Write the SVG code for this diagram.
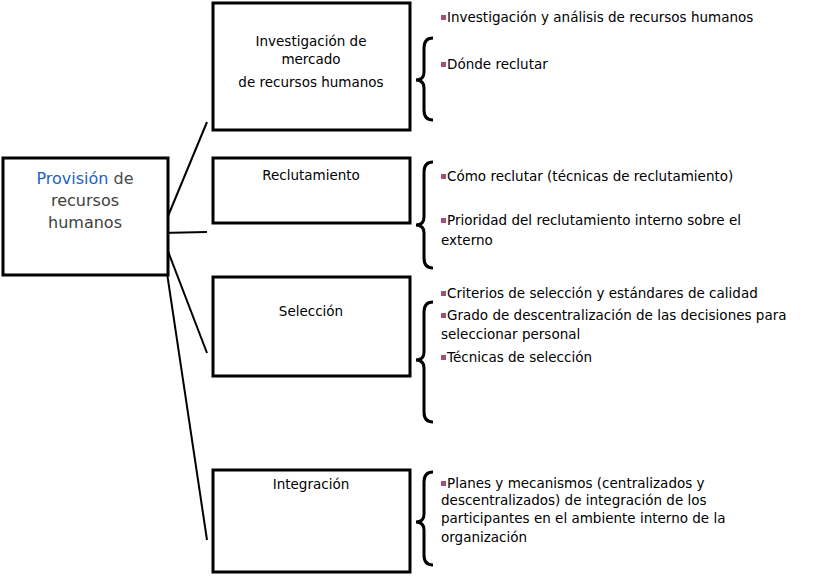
<svg xmlns="http://www.w3.org/2000/svg" width="821" height="577" viewBox="0 0 821 577">
<style>
.box{fill:#fff;stroke:#000;stroke-width:3}
.ln{stroke:#000;stroke-width:2;fill:none}
.br{stroke:#000;stroke-width:3;fill:none}
text{font-family:"DejaVu Sans",Verdana,sans-serif;font-size:13.5px;fill:#000}
.c{text-anchor:middle}
.m{font-size:16px;fill:#000;text-anchor:middle}
.b{fill:#a0507a}
</style>
<rect width="821" height="577" fill="#fff"/>
<g id="connectors">
<line class="ln" x1="161" y1="233" x2="207" y2="122" stroke-width="3"/>
<line class="ln" x1="161" y1="233" x2="207" y2="232"/>
<line class="ln" x1="161" y1="233" x2="207" y2="353"/>
<line class="ln" x1="161" y1="233" x2="207" y2="540"/>
</g>
<g id="main"><rect class="box" x="3" y="158" width="165" height="117"/>
<text class="m" x="85" y="184"><tspan fill="#1f5fbf">Provisión</tspan> <tspan fill="#4a4a4a">de</tspan></text>
<text class="m" x="85" y="206" fill="#4a4a4a" style="fill:#404040">recursos</text>
<text class="m" x="85" y="228" style="fill:#404040">humanos</text></g>
<g id="n1"><rect class="box" x="213" y="3" width="197" height="127"/>
<text class="c" x="311" y="46">Investigación de</text><text class="c" x="311" y="64">mercado</text><text class="c" x="311" y="87">de recursos humanos</text></g>
<g id="n2"><rect class="box" x="213" y="158" width="197" height="65"/><text class="c" x="311" y="180">Reclutamiento</text></g>
<g id="n3"><rect class="box" x="213" y="277" width="197" height="99"/><text class="c" x="311" y="316">Selección</text></g>
<g id="n4"><rect class="box" x="213" y="470" width="197" height="102"/><text class="c" x="311" y="489">Integración</text></g>
<g id="braces">
<path class="br" d="M433,38 Q424,38 424,48 L424,72 Q424,80 416,80 Q424,80 424,88 L424,110 Q424,120 433,120"/>
<path class="br" d="M433,162 Q424,162 424,172 L424,217 Q424,225 416,225 Q424,225 424,233 L424,258 Q424,268 433,268"/>
<path class="br" d="M433,302 Q424,302 424,312 L424,352 Q424,360 416,360 Q424,360 424,368 L424,412 Q424,422 433,422"/>
<path class="br" d="M433,472 Q424,472 424,482 L424,514 Q424,522 416,522 Q424,522 424,530 L424,555 Q424,565 433,565"/>
</g>
<g id="items">
<rect class="b" x="441" y="15" width="5" height="5"/><text x="447" y="22">Investigación y análisis de  recursos humanos</text>
<rect class="b" x="441" y="62" width="5" height="5"/><text x="447" y="69">Dónde reclutar</text>
<rect class="b" x="441" y="174" width="5" height="5"/><text x="447" y="181">Cómo reclutar  (técnicas de reclutamiento)</text>
<rect class="b" x="441" y="218" width="5" height="5"/><text x="447" y="225">Prioridad del reclutamiento interno sobre el</text><text x="441" y="245">externo</text>
<rect class="b" x="441" y="291" width="5" height="5"/><text x="447" y="298">Criterios de selección y  estándares de calidad</text>
<rect class="b" x="441" y="313" width="5" height="5"/><text x="447" y="320">Grado de descentralización de  las decisiones para</text><text x="441" y="339">seleccionar personal</text>
<rect class="b" x="441" y="355" width="5" height="5"/><text x="447" y="362">Técnicas de selección</text>
<rect class="b" x="441" y="481" width="5" height="5"/><text x="447" y="488">Planes y mecanismos (centralizados y</text><text x="441" y="505">descentralizados) de integración de los</text><text x="441" y="523">participantes en el ambiente interno de la</text><text x="441" y="542">organización</text>
</g>
</svg>
